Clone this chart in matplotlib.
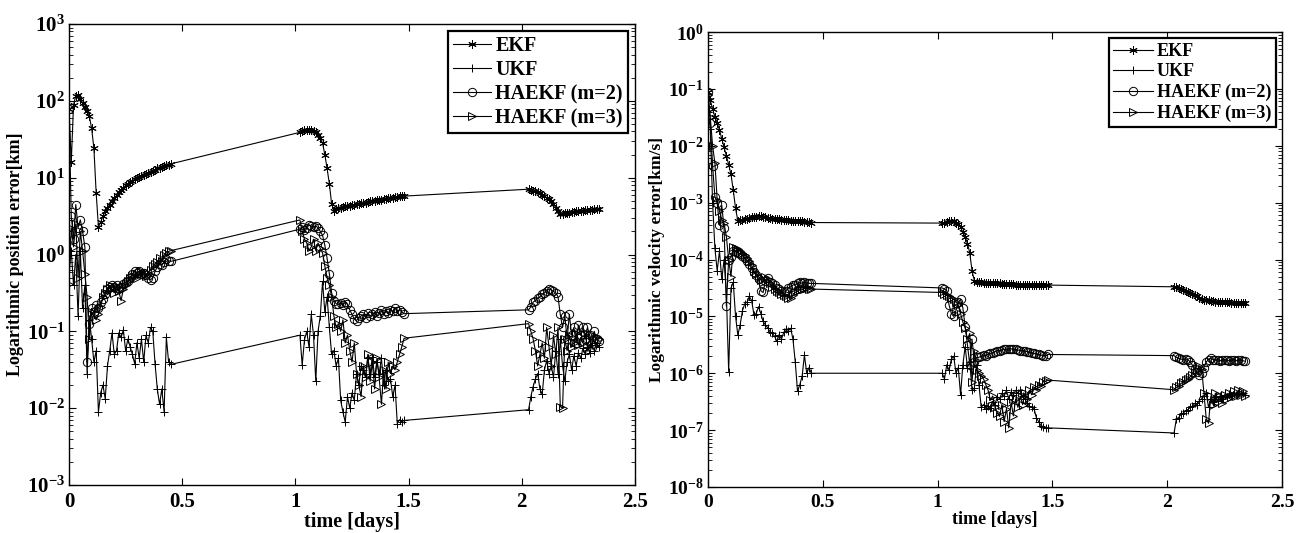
import numpy as np
import matplotlib
matplotlib.use("Agg")
import matplotlib.pyplot as plt
from matplotlib.ticker import FuncFormatter, NullFormatter, FixedLocator

plt.rcParams['font.family'] = ['Liberation Serif', 'DejaVu Serif']
plt.rcParams['font.weight'] = 'bold'
plt.rcParams['mathtext.fontset'] = 'custom'
plt.rcParams['mathtext.rm'] = 'Liberation Serif:bold'
plt.rcParams['mathtext.bf'] = 'Liberation Serif:bold'
plt.rcParams['mathtext.it'] = 'Liberation Serif:bold:italic'

# sample times [days], three observation windows
t_w1 = [0.00, 0.01, 0.02, 0.03, 0.04, 0.05, 0.06, 0.07, 0.08, 0.09,
        0.10, 0.11, 0.12, 0.13, 0.14, 0.15, 0.16, 0.17, 0.18, 0.19,
        0.20, 0.21, 0.22, 0.23, 0.24, 0.25, 0.26, 0.27, 0.28, 0.29,
        0.30, 0.31, 0.32, 0.33, 0.34, 0.35, 0.36, 0.37, 0.38, 0.39,
        0.40, 0.41, 0.42, 0.43, 0.44, 0.45]
t_w2 = [1.02, 1.03, 1.04, 1.05, 1.06, 1.07, 1.08, 1.09, 1.10, 1.11,
        1.12, 1.13, 1.14, 1.15, 1.16, 1.17, 1.18, 1.19, 1.20, 1.21,
        1.22, 1.23, 1.24, 1.25, 1.26, 1.27, 1.28, 1.29, 1.30, 1.31,
        1.32, 1.33, 1.34, 1.35, 1.36, 1.37, 1.38, 1.39, 1.40, 1.41,
        1.42, 1.43, 1.44, 1.45, 1.46, 1.47, 1.48]
t_w3 = [2.03, 2.04, 2.05, 2.06, 2.07, 2.08, 2.09, 2.10, 2.11, 2.12,
        2.13, 2.14, 2.15, 2.16, 2.17, 2.18, 2.19, 2.20, 2.21, 2.22,
        2.23, 2.24, 2.25, 2.26, 2.27, 2.28, 2.29, 2.30, 2.31, 2.32,
        2.33, 2.34]
t = t_w1 + t_w2 + t_w3

# ---- position error, log10 [km] ----
pos_ekf = [1.90, 1.20, 1.95, 2.06, 2.07, 2.02, 1.97, 1.92, 1.87, 1.80,
           1.64, 1.38, 0.80, 0.36, 0.42, 0.50, 0.56, 0.61, 0.65, 0.69,
           0.73, 0.77, 0.81, 0.84, 0.87, 0.90, 0.92, 0.94, 0.96, 0.98,
           1.00, 1.01, 1.02, 1.04, 1.05, 1.06, 1.08, 1.09, 1.10, 1.12,
           1.13, 1.14, 1.15, 1.16, 1.17, 1.18,
           1.59, 1.61, 1.62, 1.62, 1.62, 1.62, 1.61, 1.59, 1.56, 1.51,
           1.45, 1.30, 1.12, 0.92, 0.66, 0.57, 0.59, 0.60, 0.61, 0.62,
           0.625, 0.63, 0.635, 0.64, 0.65, 0.655, 0.66, 0.665, 0.67, 0.675,
           0.68, 0.69, 0.695, 0.70, 0.705, 0.71, 0.715, 0.72, 0.725, 0.73,
           0.735, 0.74, 0.745, 0.75, 0.755, 0.76, 0.76,
           0.85, 0.84, 0.83, 0.82, 0.81, 0.80, 0.78, 0.76, 0.74, 0.72,
           0.69, 0.66, 0.61, 0.56, 0.53, 0.53, 0.535, 0.54, 0.545, 0.55,
           0.555, 0.56, 0.565, 0.57, 0.57, 0.575, 0.58, 0.58, 0.585, 0.59,
           0.59, 0.59]
pos_ukf = [-0.20, 0.05, -0.40, 0.00, -0.80, 0.05, -0.70, -0.40, -1.55, -0.85,
           -1.10, -1.40, -1.25, -2.05, -1.80, -1.70, -1.88, -1.45, -1.25, -1.02,
           -1.30, -1.25, -1.02, -1.08, -0.98, -1.25, -1.10, -1.20, -1.30, -1.42,
           -1.15, -1.35, -1.10, -1.40, -1.05, -1.15, -0.95, -1.00, -1.42, -1.75,
           -1.95, -1.75, -2.05, -1.08, -1.40, -1.43,
           -1.05, -1.44, -1.11, -1.00, -1.20, -0.78, -1.05, -1.65, -1.00, -0.80,
           -0.35, -0.75, -0.55, -0.95, -1.30, -1.25, -1.45, -1.35, -1.90, -2.05,
           -2.18, -1.85, -2.00, -1.80, -1.90, -1.55, -1.70, -1.45, -1.50, -1.60,
           -1.35, -1.55, -1.33, -1.60, -1.40, -1.55, -1.35, -1.70, -1.50, -1.65,
           -1.62, -1.85, -1.70, -2.20, -2.15, -2.18, -2.16,
           -2.02, -1.85, -1.72, -1.62, -1.55, -1.75, -1.82, -1.50, -1.38, -1.55,
           -1.45, -1.60, -1.25, -1.55, -1.10, -1.45, -1.65, -1.40, -1.30, -1.50,
           -1.32, -1.45, -1.28, -1.35, -1.22, -1.30, -1.20, -1.28, -1.18, -1.25,
           -1.15, -1.20]
pos_m2 = [1.90, 0.50, 0.20, 0.65, 0.35, 0.45, 0.30, 0.10, -1.40, -0.90,
          -0.70, -0.75, -0.66, -0.70, -0.62, -0.58, -0.52, -0.45, -0.42, -0.40,
          -0.42, -0.40, -0.44, -0.42, -0.38, -0.36, -0.34, -0.30, -0.25, -0.22,
          -0.24, -0.22, -0.25, -0.24, -0.27, -0.30, -0.33, -0.30, -0.22, -0.16,
          -0.12, -0.14, -0.10, -0.06, -0.08, -0.09,
          0.33, 0.36, 0.32, 0.35, 0.38, 0.37, 0.36, 0.37, 0.35, 0.30,
          0.25, 0.12, -0.05, -0.25, -0.50, -0.60, -0.64, -0.65, -0.63, -0.66,
          -0.62, -0.65, -0.72, -0.78, -0.84, -0.86, -0.82, -0.80, -0.78, -0.82,
          -0.76, -0.80, -0.78, -0.75, -0.80, -0.76, -0.72, -0.78, -0.74, -0.76,
          -0.72, -0.74, -0.70, -0.74, -0.72, -0.75, -0.77,
          -0.72, -0.68, -0.62, -0.60, -0.57, -0.55, -0.52, -0.50, -0.47, -0.45,
          -0.46, -0.48, -0.50, -0.55, -0.78, -0.95, -0.80, -1.10, -0.78, -1.05,
          -0.95, -1.15, -0.92, -1.05, -0.95, -1.10, -0.95, -1.05, -1.20, -1.00,
          -1.10, -1.12]
pos_m3 = [-0.38, 0.35, 0.10, 0.40, -0.30, 0.30, 0.05, -0.25, -0.55, -1.10,
          -0.75, -0.80, -0.85, -0.78, -0.68, -0.55, -0.50, -0.45, -0.40, -0.45,
          -0.50, -0.42, -0.48, -0.60, -0.45, -0.40, -0.35, -0.30, -0.28, -0.25,
          -0.30, -0.27, -0.22, -0.26, -0.28, -0.24, -0.20, -0.15, -0.12, -0.10,
          -0.05, -0.08, 0.00, 0.02, 0.04, 0.05,
          0.45, 0.30, 0.20, 0.15, 0.05, 0.10, 0.20, 0.05, 0.15, 0.08,
          0.02, -0.15, -0.30, -0.40, -0.55, -0.80, -0.95, -0.90, -1.00, -0.85,
          -1.15, -1.05, -1.25, -1.40, -1.15, -1.55, -1.70, -1.85, -1.45, -1.60,
          -1.30, -1.65, -1.40, -1.75, -1.35, -1.60, -1.95, -1.50, -1.75, -1.40,
          -1.55, -1.45, -1.50, -1.40, -1.30, -1.20, -1.09,
          -0.90, -1.00, -1.10, -1.25, -1.45, -1.30, -1.15, -1.35, -0.95, -1.20,
          -1.45, -1.05, -1.30, -0.95, -1.98, -2.00, -1.10, -1.25, -1.05, -1.20,
          -1.15, -1.02, -1.18, -1.08, -1.15, -1.05, -1.20, -1.10, -1.05, -1.15,
          -1.08, -1.10]

# ---- velocity error, log10 [km/s] ----
vel_ekf = [-1.05, -1.20, -1.35, -1.49, -1.60, -1.72, -1.88, -2.02, -2.18, -2.33,
           -2.50, -2.78, -3.10, -3.32, -3.31, -3.30, -3.29, -3.28, -3.27, -3.26,
           -3.25, -3.25, -3.24, -3.24, -3.25, -3.26, -3.27, -3.27, -3.28, -3.28,
           -3.29, -3.29, -3.30, -3.30, -3.31, -3.31, -3.32, -3.32, -3.32, -3.33,
           -3.33, -3.33, -3.34, -3.34, -3.34, -3.35,
           -3.36, -3.35, -3.34, -3.33, -3.33, -3.33, -3.35, -3.38, -3.43, -3.52,
           -3.60, -3.72, -3.88, -4.20, -4.37, -4.39, -4.40, -4.40, -4.41, -4.41,
           -4.41, -4.42, -4.42, -4.42, -4.42, -4.42, -4.43, -4.43, -4.43, -4.43,
           -4.43, -4.43, -4.44, -4.44, -4.44, -4.44, -4.44, -4.44, -4.44, -4.45,
           -4.45, -4.45, -4.45, -4.45, -4.45, -4.45, -4.45,
           -4.48, -4.49, -4.50, -4.52, -4.53, -4.55, -4.57, -4.59, -4.61, -4.63,
           -4.65, -4.67, -4.69, -4.71, -4.72, -4.72, -4.73, -4.73, -4.74, -4.74,
           -4.74, -4.75, -4.75, -4.75, -4.75, -4.76, -4.76, -4.76, -4.76, -4.77,
           -4.77, -4.77]
vel_ukf = [-1.40, -1.70, -3.00, -3.80, -4.20, -3.85, -4.35, -4.00, -4.60, -5.97,
           -4.50, -4.40, -5.00, -5.33, -5.15, -4.90, -4.78, -4.75, -4.65, -4.72,
           -4.97, -4.95, -4.83, -4.95, -5.09, -5.15, -5.20, -5.27, -5.30, -5.35,
           -5.44, -5.32, -5.40, -5.28, -5.22, -5.25, -5.21, -5.40, -5.80, -6.32,
           -6.20, -6.05, -5.68, -6.00, -5.90, -6.00,
           -6.00, -6.10, -5.85, -5.95, -5.75, -5.70, -6.00, -5.90, -6.38, -5.85,
           -5.53, -5.90, -5.80, -6.30, -6.26, -5.85, -6.20, -6.60, -6.55, -6.62,
           -6.58, -6.61, -6.50, -6.55, -6.41, -6.45, -6.35, -6.40, -6.30, -6.45,
           -6.33, -6.38, -6.30, -6.35, -6.29, -6.40, -6.45, -6.52, -6.58, -6.60,
           -6.62, -6.78, -6.85, -6.92, -6.94, -6.96, -6.96,
           -7.05, -6.80, -6.78, -6.72, -6.70, -6.66, -6.64, -6.60, -6.58, -6.53,
           -6.55, -6.48, -6.45, -6.40, -6.35, -6.60, -6.45, -6.50, -6.42, -6.48,
           -6.40, -6.45, -6.38, -6.42, -6.36, -6.40, -6.35, -6.38, -6.34, -6.37,
           -6.35, -6.38]
vel_m2 = [-1.05, -1.60, -2.35, -2.90, -3.00, -3.40, -3.05, -3.45, -4.82, -4.00,
          -3.95, -3.85, -3.86, -3.88, -3.90, -3.93, -3.97, -4.02, -4.08, -4.15,
          -4.22, -4.28, -4.35, -4.55, -4.58, -4.38, -4.33, -4.40, -4.42, -4.45,
          -4.50, -4.52, -4.55, -4.58, -4.55, -4.50, -4.48, -4.45, -4.44, -4.42,
          -4.40, -4.42, -4.40, -4.41, -4.42, -4.42,
          -4.50, -4.52, -4.55, -4.80, -4.95, -5.00, -4.90, -4.75, -4.70, -4.85,
          -5.18, -5.50, -5.85, -5.40, -5.80, -5.72, -5.72, -5.70, -5.68, -5.70,
          -5.66, -5.65, -5.64, -5.62, -5.60, -5.60, -5.59, -5.58, -5.58, -5.57,
          -5.57, -5.58, -5.58, -5.59, -5.60, -5.60, -5.61, -5.62, -5.63, -5.64,
          -5.65, -5.66, -5.67, -5.68, -5.69, -5.70, -5.67,
          -5.69, -5.72, -5.74, -5.75, -5.76, -5.75, -5.76, -5.80, -5.86, -5.92,
          -5.98, -6.03, -6.00, -5.90, -5.80, -5.76, -5.74, -5.76, -5.77, -5.76,
          -5.78, -5.77, -5.76, -5.77, -5.78, -5.77, -5.76, -5.78, -5.77, -5.76,
          -5.78, -5.79]
vel_m3 = [-1.10, -1.50, -2.00, -2.30, -2.95, -3.15, -3.30, -3.36, -3.60, -4.00,
          -4.30, -3.78, -3.80, -3.82, -3.85, -3.88, -3.92, -3.97, -4.02, -4.10,
          -4.20, -4.25, -4.30, -4.36, -4.40, -4.30, -4.35, -4.42, -4.48, -4.52,
          -4.55, -4.58, -4.60, -4.63, -4.65, -4.67, -4.68, -4.62, -4.58, -4.55,
          -4.53, -4.52, -4.51, -4.50, -4.51, -4.52,
          -4.58, -4.60, -4.62, -4.65, -4.68, -4.70, -4.74, -4.80, -4.95, -5.10,
          -5.20, -5.40, -5.30, -6.15, -5.60, -5.94, -6.00, -6.05, -6.10, -6.20,
          -6.30, -6.47, -6.40, -6.60, -6.70, -6.76, -6.55, -6.85, -6.62, -6.96,
          -6.50, -6.75, -6.45, -6.60, -6.40, -6.55, -6.35, -6.45, -6.30, -6.38,
          -6.25, -6.30, -6.20, -6.22, -6.15, -6.14, -6.12,
          -6.29, -6.25, -6.22, -6.18, -6.15, -6.12, -6.10, -6.06, -6.03, -6.00,
          -5.95, -5.88, -5.92, -6.35, -6.80, -6.88, -6.40, -6.55, -6.35, -6.50,
          -6.40, -6.52, -6.38, -6.45, -6.35, -6.42, -6.32, -6.40, -6.30, -6.38,
          -6.32, -6.40]

labels = ['EKF', 'UKF', 'HAEKF (m=2)', 'HAEKF (m=3)']
markers = [(6, 2, 0), '+', 'o', '>']
xticks = [0, 0.5, 1, 1.5, 2, 2.5]
xticklabels = ['0', '0.5', '1', '1.5', '2', '2.5']
pos_decades = [-3, -2, -1, 0, 1, 2, 3]
vel_decades = [-8, -7, -6, -5, -4, -3, -2, -1, 0]

fig = plt.figure(figsize=(13.06, 5.33), dpi=100)
ax1 = fig.add_axes([69/1306, 1-485/533, 566/1306, 461/533])
ax2 = fig.add_axes([708/1306, 1-487/533, 574/1306, 455/533])


def draw(ax, series, decades, ylabel, fs_tick, fs_xlab, fs_ylab, fs_leg, hlen):
    for vals, lab, mk in zip(series, labels, markers):
        ax.plot(t, 10.0**np.array(vals), color='black', lw=0.8, marker=mk,
                markersize=6, markerfacecolor='none', markeredgecolor='black',
                markeredgewidth=0.7, label=lab)
    ax.set_yscale('log')
    ax.set_xlim(0, 2.5)
    ax.set_ylim(10.0**decades[0], 10.0**decades[-1])
    ax.xaxis.set_major_locator(FixedLocator(xticks))
    ax.set_xticklabels(xticklabels)
    major = [10.0**d for d in decades]
    minor = [k * 10.0**d for d in decades[:-1] for k in range(2, 10)]
    ax.yaxis.set_major_locator(FixedLocator(major))
    ax.yaxis.set_minor_locator(FixedLocator(minor))
    ax.yaxis.set_minor_formatter(NullFormatter())
    ax.yaxis.set_major_formatter(FuncFormatter(lambda v, p: r'$\mathbf{10^{%d}}$' % round(np.log10(v))))
    ax.tick_params(which='both', direction='in', top=True, right=True, labelsize=fs_tick)
    ax.tick_params(which='major', length=5, width=0.8)
    ax.tick_params(which='minor', length=3, width=0.6)
    ax.tick_params(axis='x', pad=5)
    ax.tick_params(axis='y', pad=3)
    for s in ax.spines.values():
        s.set_linewidth(1.0)
    ax.set_xlabel('time [days]', fontsize=fs_xlab, fontweight='bold', labelpad=0)
    ax.set_ylabel(ylabel, fontsize=fs_ylab, fontweight='bold', labelpad=2)
    leg = ax.legend(loc='upper right', fontsize=fs_leg, frameon=True, fancybox=False,
                    framealpha=1, edgecolor='black', borderaxespad=0.35,
                    handlelength=hlen, handletextpad=0.2, labelspacing=0.2,
                    borderpad=0.25)
    leg.get_frame().set_linewidth(1.6)


draw(ax1, [pos_ekf, pos_ukf, pos_m2, pos_m3], pos_decades,
     'Logarithmic position error[km]', 15, 14.5, 13, 14.5, 1.9)
draw(ax2, [vel_ekf, vel_ukf, vel_m2, vel_m3], vel_decades,
     'Logarithmic velocity error[km/s]', 14, 13, 12.5, 13, 2.2)

fig.savefig('out.png', dpi=100)
